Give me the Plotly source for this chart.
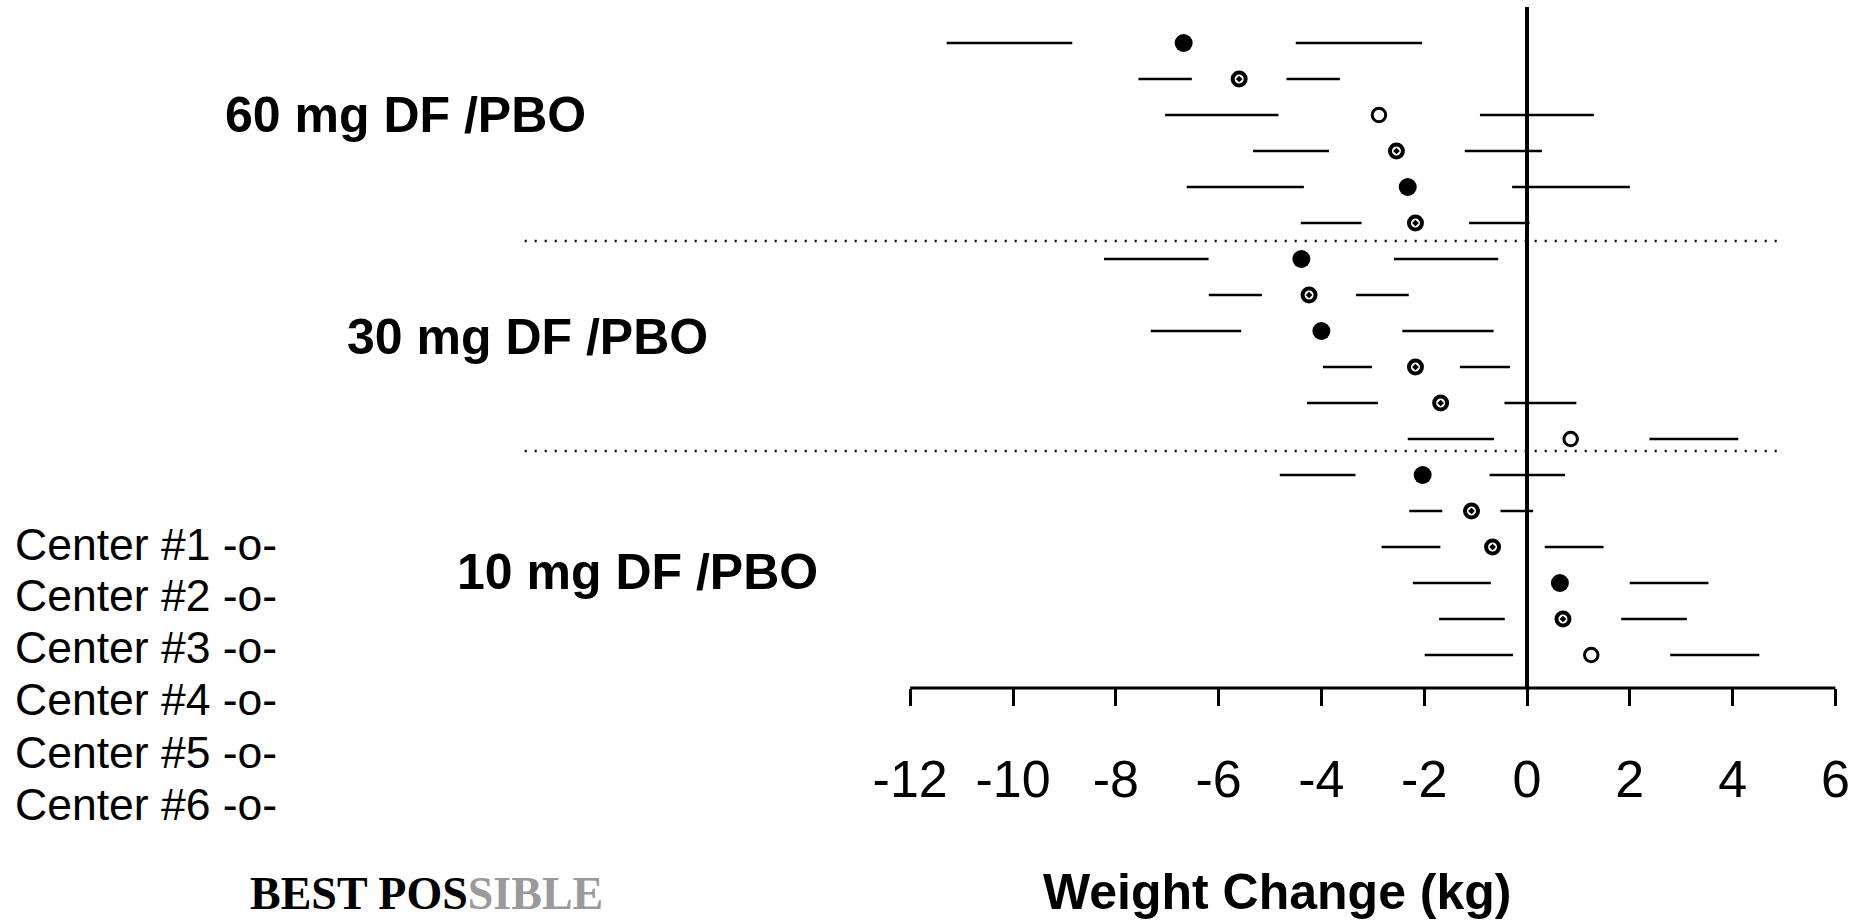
import plotly.graph_objects as go

# ---------------- data ----------------
GROUP_LABELS = ["60 mg DF /PBO", "30 mg DF /PBO", "10 mg DF /PBO"]
CENTER_LABELS = ["Center #1 -o-", "Center #2 -o-", "Center #3 -o-",
                 "Center #4 -o-", "Center #5 -o-", "Center #6 -o-"]

# rows top to bottom (6 per dose group)
CI_LOW = [-11.29, -7.56, -7.04, -5.33, -6.62, -4.40,
          -8.23, -6.19, -7.32, -3.97, -4.28, -2.32,
          -4.81, -2.29, -2.83, -2.22, -1.71, -1.99]
ESTIMATE = [-6.68, -5.60, -2.88, -2.54, -2.32, -2.17,
            -4.39, -4.24, -4.00, -2.17, -1.68, 0.85,
            -2.03, -1.08, -0.67, 0.64, 0.70, 1.25]
CI_HIGH = [-2.04, -3.64, 1.30, 0.29, 2.00, 0.05,
           -0.56, -2.30, -0.65, -0.33, 0.96, 4.11,
           0.74, 0.12, 1.49, 3.53, 3.11, 4.52]
MARKER_KIND = ["filled", "ring", "open", "ring", "filled", "ring",
               "filled", "ring", "filled", "ring", "ring", "open",
               "filled", "ring", "ring", "filled", "ring", "open"]
X_TICKS = [-12, -10, -8, -6, -4, -2, 0, 2, 4, 6]
X_TITLE = "Weight Change (kg)"

# ---------------- layout constants ----------------
W, H = 1871, 923
AXIS_PX = 688            # pixel row of the x-axis line
ZERO_PX, UNIT_PX = 1527, 51.4
ROW0_PX, ROW_PX = 43, 36.0
SEG_FRAC = 0.53          # visible part of each half of the interval
SEPARATORS = [6.5, 12.33]
FONT = "Liberation Sans, Arial, Helvetica, sans-serif"

rows = list(range(1, len(ESTIMATE) + 1))
x_range = [-ZERO_PX / UNIT_PX, (W - ZERO_PX) / UNIT_PX]
y_range = [1 + (AXIS_PX - ROW0_PX) / ROW_PX, 1 - ROW0_PX / ROW_PX]


def py(p):
    """pixel row -> paper y"""
    return (AXIS_PX - p) / AXIS_PX


def px(p):
    return p / W


fig = go.Figure()

# interval segments (drawn with a gap around the estimate)
sx, sy = [], []
for lo, m, hi, r in zip(CI_LOW, ESTIMATE, CI_HIGH, rows):
    sx += [lo, lo + SEG_FRAC * (m - lo), None, hi - SEG_FRAC * (hi - m), hi, None]
    sy += [r, r, None, r, r, None]
fig.add_trace(go.Scatter(x=sx, y=sy, mode="lines",
                         line=dict(color="black", width=2.5),
                         hoverinfo="skip", showlegend=False))

styles = {
    "filled": dict(symbol="circle", size=18, color="black", line=dict(width=0)),
    "ring": dict(symbol="circle-open-dot", size=13, color="black", line=dict(width=4)),
    "open": dict(symbol="circle-open", size=13.5, color="black", line=dict(width=3)),
}
for kind, st in styles.items():
    xs = [e for e, k in zip(ESTIMATE, MARKER_KIND) if k == kind]
    ys = [r for r, k in zip(rows, MARKER_KIND) if k == kind]
    fig.add_trace(go.Scatter(x=xs, y=ys, mode="markers", marker=st,
                             showlegend=False, cliponaxis=False))

shapes = []
# zero line
shapes.append(dict(type="line", xref="x", yref="y", x0=0, x1=0,
                   y0=1 - (ROW0_PX - 7) / ROW_PX, y1=y_range[0],
                   line=dict(color="black", width=4)))
# axis line from first to last tick
shapes.append(dict(type="line", xref="x", yref="paper", x0=X_TICKS[0], x1=X_TICKS[-1],
                   y0=0, y1=0, line=dict(color="black", width=3)))
# dotted separators between dose groups
for s in SEPARATORS:
    shapes.append(dict(type="line", xref="x", yref="y", x0=-19.5, x1=5.0, y0=s, y1=s,
                       line=dict(color="black", width=2.5, dash="2px,8px")))

annotations = []
group_pos = [(223, 115), (345, 337), (455, 572)]
for lab, (gx, gy) in zip(GROUP_LABELS, group_pos):
    annotations.append(dict(text="<b>" + lab + "</b>", x=px(gx), y=py(gy),
                            xref="paper", yref="paper", xanchor="left", yanchor="middle",
                            showarrow=False, font=dict(family=FONT, size=50, color="black")))
center_y = [544, 595, 647, 699, 752, 804]
for lab, cy in zip(CENTER_LABELS, center_y):
    annotations.append(dict(text=lab, x=px(13), y=py(cy), xref="paper", yref="paper",
                            xanchor="left", yanchor="middle", showarrow=False,
                            font=dict(family=FONT, size=44.5, color="black")))
annotations.append(dict(text="<b>" + X_TITLE + "</b>", x=px(1277), y=py(892),
                        xref="paper", yref="paper", xanchor="center", yanchor="middle",
                        showarrow=False, font=dict(family=FONT, size=50, color="black")))
annotations.append(dict(text='<b>BEST POS<span style="color:#9a9a9a">SIBLE</span></b>',
                        x=px(248), y=py(921), xref="paper", yref="paper",
                        xanchor="left", yanchor="bottom", showarrow=False,
                        font=dict(family="Liberation Serif, Times New Roman, serif",
                                  size=46, color="black")))

fig.update_layout(
    width=W, height=H,
    margin=dict(l=0, r=0, t=0, b=H - AXIS_PX, pad=0),
    paper_bgcolor="white", plot_bgcolor="white",
    showlegend=False,
    shapes=shapes, annotations=annotations,
    xaxis=dict(range=x_range, tickvals=X_TICKS, ticktext=[str(t) for t in X_TICKS],
               ticks="outside", ticklen=17, tickwidth=3, tickcolor="black",
               showline=False, showgrid=False, zeroline=False,
               tickfont=dict(family=FONT, size=52, color="black"),
               ticklabelstandoff=29, fixedrange=True),
    yaxis=dict(range=y_range, visible=False, showgrid=False, zeroline=False,
               fixedrange=True),
)

fig.write_html("out.html")
